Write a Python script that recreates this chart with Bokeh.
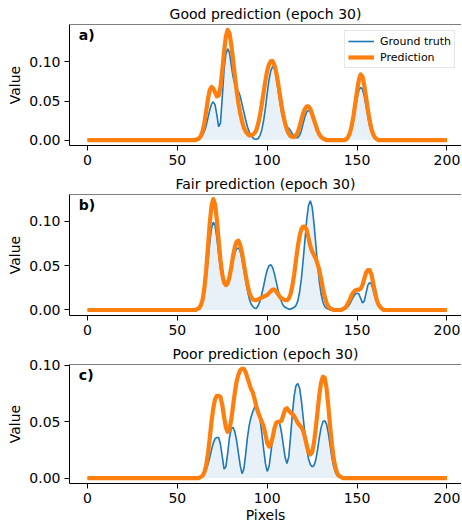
from bokeh.plotting import figure
from bokeh.layouts import column
from bokeh.models import Range1d, FixedTicker, NumeralTickFormatter, Label, Legend, LegendItem, Span
from bokeh.embed import file_html
from bokeh.resources import INLINE

# ---------------- data ----------------
pixels = list(range(0, 201))
seg_start = 60  # first pixel of the listed segments (values are 0 outside)

titles = ["Good prediction (epoch 30)", "Fair prediction (epoch 30)", "Poor prediction (epoch 30)"]
panel_tags = ["a)", "b)", "c)"]
x_ticks = [0, 50, 100, 150, 200]
y_ticks = [0.0, 0.05, 0.10]

# pixels 60..165
gt_a = [0, 0, 0.001, 0.003, 0.006, 0.011, 0.018, 0.028, 0.038, 0.046,
        0.049, 0.045, 0.032, 0.017, 0.022, 0.055, 0.090, 0.110, 0.117, 0.112,
        0.096, 0.081, 0.071, 0.066, 0.062, 0.056, 0.046, 0.036, 0.026, 0.017,
        0.010, 0.006, 0.003, 0.001, 0.001, 0.002, 0.006, 0.013, 0.025, 0.041,
        0.060, 0.077, 0.089, 0.094, 0.092, 0.081, 0.065, 0.049, 0.035, 0.026,
        0.020, 0.017, 0.015, 0.012, 0.008, 0.005, 0.003, 0.003, 0.006, 0.012,
        0.021, 0.030, 0.036, 0.038, 0.037, 0.032, 0.025, 0.018, 0.011, 0.006,
        0.003, 0.001, 0, 0, 0, 0, 0, 0, 0, 0,
        0, 0, 0, 0, 0.001, 0.003, 0.007, 0.014, 0.025, 0.039,
        0.053, 0.064, 0.0675, 0.065, 0.056, 0.043, 0.030, 0.018, 0.010, 0.005,
        0.002, 0.001, 0, 0, 0, 0]
pr_a = [0, 0.001, 0.002, 0.005, 0.011, 0.021, 0.036, 0.052, 0.064, 0.068,
        0.066, 0.061, 0.056, 0.057, 0.068, 0.089, 0.113, 0.133, 0.141, 0.137,
        0.122, 0.103, 0.082, 0.063, 0.047, 0.034, 0.024, 0.016, 0.011, 0.008,
        0.006, 0.006, 0.007, 0.009, 0.013, 0.021, 0.032, 0.046, 0.061, 0.076,
        0.089, 0.097, 0.101, 0.101, 0.096, 0.087, 0.074, 0.059, 0.044, 0.031,
        0.021, 0.013, 0.008, 0.005, 0.004, 0.004, 0.006, 0.010, 0.017, 0.026,
        0.034, 0.040, 0.043, 0.043, 0.040, 0.033, 0.026, 0.019, 0.012, 0.007,
        0.004, 0.002, 0.001, 0, 0, 0, 0, 0, 0, 0,
        0, 0, 0, 0, 0.001, 0.004, 0.009, 0.018, 0.031, 0.047,
        0.063, 0.077, 0.084, 0.081, 0.070, 0.055, 0.039, 0.025, 0.014, 0.007,
        0.003, 0.001, 0, 0, 0, 0]

gt_b = [0, 0.0005, 0.0015, 0.004, 0.009, 0.019, 0.034, 0.054, 0.075, 0.092,
        0.099, 0.095, 0.081, 0.062, 0.046, 0.035, 0.029, 0.028, 0.030, 0.037,
        0.046, 0.056, 0.064, 0.069, 0.070, 0.066, 0.057, 0.045, 0.033, 0.022,
        0.013, 0.007, 0.004, 0.002, 0.002, 0.005, 0.010, 0.018, 0.027, 0.037,
        0.045, 0.050, 0.051, 0.048, 0.041, 0.032, 0.023, 0.015, 0.009, 0.005,
        0.003, 0.002, 0.001, 0.001, 0.002, 0.003, 0.005, 0.010, 0.020, 0.035,
        0.056, 0.079, 0.102, 0.118, 0.123, 0.116, 0.098, 0.075, 0.051, 0.032,
        0.018, 0.009, 0.004, 0.002, 0.001, 0, 0, 0, 0, 0,
        0, 0, 0, 0.001, 0.002, 0.004, 0.007, 0.011, 0.015, 0.018,
        0.019, 0.018, 0.013, 0.008, 0.010, 0.019, 0.028, 0.031, 0.029, 0.022,
        0.014, 0.008, 0.004, 0.002, 0.001, 0]
pr_b = [0, 0.001, 0.002, 0.005, 0.011, 0.024, 0.044, 0.070, 0.097, 0.117,
        0.125, 0.119, 0.101, 0.078, 0.056, 0.040, 0.031, 0.028, 0.030, 0.037,
        0.048, 0.061, 0.071, 0.077, 0.078, 0.073, 0.064, 0.052, 0.040, 0.029,
        0.020, 0.015, 0.012, 0.011, 0.011, 0.012, 0.013, 0.014, 0.015, 0.016,
        0.017, 0.019, 0.021, 0.023, 0.023, 0.021, 0.018, 0.015, 0.013, 0.012,
        0.011, 0.011, 0.013, 0.018, 0.027, 0.040, 0.056, 0.071, 0.083, 0.091,
        0.094, 0.094, 0.090, 0.081, 0.072, 0.066, 0.062, 0.058, 0.052, 0.045,
        0.035, 0.024, 0.015, 0.008, 0.004, 0.002, 0.001, 0, 0, 0,
        0, 0, 0.001, 0.002, 0.004, 0.008, 0.012, 0.017, 0.020, 0.022,
        0.023, 0.023, 0.024, 0.028, 0.035, 0.042, 0.045, 0.045, 0.040, 0.030,
        0.020, 0.011, 0.006, 0.003, 0.001, 0]

gt_c = [0, 0, 0, 0.001, 0.002, 0.004, 0.007, 0.012, 0.018, 0.025,
        0.031, 0.035, 0.036, 0.036, 0.030, 0.019, 0.008, 0.010, 0.022, 0.036,
        0.044, 0.045, 0.041, 0.033, 0.022, 0.011, 0.004, 0.008, 0.021, 0.036,
        0.047, 0.054, 0.059, 0.063, 0.065, 0.061, 0.052, 0.040, 0.026, 0.013,
        0.006, 0.010, 0.022, 0.035, 0.045, 0.050, 0.051, 0.048, 0.040, 0.029,
        0.018, 0.013, 0.019, 0.037, 0.057, 0.073, 0.082, 0.084, 0.080, 0.069,
        0.054, 0.039, 0.026, 0.017, 0.012, 0.010, 0.011, 0.016, 0.025, 0.036,
        0.045, 0.050, 0.051, 0.048, 0.040, 0.029, 0.018, 0.010, 0.005, 0.002,
        0.001, 0, 0, 0, 0, 0, 0, 0, 0, 0,
        0, 0, 0, 0, 0, 0, 0, 0, 0, 0,
        0, 0, 0, 0, 0, 0]
pr_c = [0, 0, 0, 0.001, 0.002, 0.005, 0.011, 0.021, 0.035, 0.050,
        0.062, 0.070, 0.073, 0.073, 0.072, 0.065, 0.054, 0.045, 0.041, 0.043,
        0.052, 0.064, 0.076, 0.086, 0.092, 0.096, 0.097, 0.097, 0.094, 0.089,
        0.084, 0.079, 0.076, 0.070, 0.063, 0.058, 0.054, 0.050, 0.046, 0.039,
        0.031, 0.028, 0.030, 0.036, 0.044, 0.049, 0.050, 0.050, 0.051, 0.056,
        0.061, 0.062, 0.060, 0.058, 0.057, 0.055, 0.052, 0.049, 0.047, 0.045,
        0.042, 0.036, 0.029, 0.023, 0.021, 0.023, 0.031, 0.044, 0.059, 0.074,
        0.085, 0.090, 0.089, 0.080, 0.064, 0.046, 0.030, 0.017, 0.009, 0.004,
        0.002, 0.001, 0, 0, 0, 0, 0, 0, 0, 0,
        0, 0, 0, 0, 0, 0, 0, 0, 0, 0,
        0, 0, 0, 0, 0, 0]

y_limits = [(-0.007, 0.148), (-0.0062, 0.1301), (-0.0048, 0.1008)]
x_limits = (-10, 208.1)
# -----------------------------------------------------------------


def full(seg):
    out = [0.0] * seg_start + list(seg)
    out += [0.0] * (len(pixels) - len(out))
    return out[:len(pixels)]


FONT = "DejaVu Sans"
BLUE = "#1f77b4"
ORANGE = "#ff7f0e"


def make_panel(i, gt, pr, height, bottom, xlabel=None, legend=False):
    y0, y1 = y_limits[i]
    p = figure(width=461, height=height, output_backend="svg", toolbar_location=None,
               x_range=Range1d(*x_limits), y_range=Range1d(y0, y1),
               min_border_left=69, min_border_right=0, min_border_top=24,
               min_border_bottom=bottom, title=titles[i])
    p.title.text_font = FONT
    p.title.text_font_size = "14px"
    p.title.text_font_style = "normal"
    p.title.text_color = "black"
    p.title.align = "center"
    p.title.standoff = 5
    p.title.offset = 0
    p.xgrid.visible = False
    p.ygrid.visible = False
    p.outline_line_color = None
    p.background_fill_color = "white"
    p.border_fill_color = "white"

    for ax in (p.xaxis[0], p.yaxis[0]):
        ax.major_label_text_font = FONT
        ax.major_label_text_font_size = "14px"
        ax.major_label_text_color = "black"
        ax.major_tick_out = 5
        ax.major_tick_in = 0
        ax.minor_tick_out = 0
        ax.minor_tick_in = 0
        ax.major_label_standoff = 4
        ax.axis_line_color = "black"
        ax.major_tick_line_color = "black"
        ax.axis_label_text_font = FONT
        ax.axis_label_text_font_size = "14px"
        ax.axis_label_text_font_style = "normal"
        ax.axis_label_text_color = "black"
    p.xaxis.ticker = FixedTicker(ticks=x_ticks)
    p.yaxis.ticker = FixedTicker(ticks=y_ticks)
    p.yaxis.formatter = NumeralTickFormatter(format="0.00")
    p.yaxis.axis_label = "Value"
    p.yaxis.axis_label_standoff = 3
    if xlabel:
        p.xaxis.axis_label = xlabel
        p.xaxis.axis_label_standoff = 1

    # top spine (right spine lies outside the visible area in the reference)
    p.add_layout(Span(location=y1, dimension="width", line_color="black", line_width=1))

    gt_full = full(gt)
    pr_full = full(pr)
    p.varea(x=pixels, y1=[0.0] * len(pixels), y2=gt_full, fill_color=BLUE, fill_alpha=0.1)
    r_gt = p.line(pixels, gt_full, line_color=BLUE, line_width=1.6)
    r_pr = p.line(pixels, pr_full, line_color=ORANGE, line_width=4.2, line_join="round")

    p.add_layout(Label(x=-4.8, y=y1 - 0.021 * (y1 - y0), text=panel_tags[i],
                       text_font=FONT, text_font_size="14px", text_font_style="bold",
                       text_color="black", text_baseline="top", text_align="left"))

    if legend:
        lg = Legend(items=[LegendItem(label="Ground truth", renderers=[r_gt]),
                           LegendItem(label="Prediction", renderers=[r_pr])],
                    location="top_right")
        lg.label_text_font = FONT
        lg.label_text_font_size = "11px"
        lg.label_text_color = "black"
        lg.label_height = 14
        lg.glyph_height = 14
        lg.glyph_width = 26
        lg.spacing = 2
        lg.padding = 3
        lg.margin = 6
        lg.label_standoff = 6
        lg.border_line_color = "#cccccc"
        lg.border_line_width = 1
        lg.background_fill_alpha = 0.8
        p.add_layout(lg)
    return p


pa = make_panel(0, gt_a, pr_a, height=170, bottom=25, legend=True)
pb = make_panel(1, gt_b, pr_b, height=170, bottom=25)
pc = make_panel(2, gt_c, pr_c, height=185, bottom=42, xlabel="Pixels")

layout = column(pa, pb, pc, spacing=0)
open("out.html", "w").write(file_html(layout, INLINE))
